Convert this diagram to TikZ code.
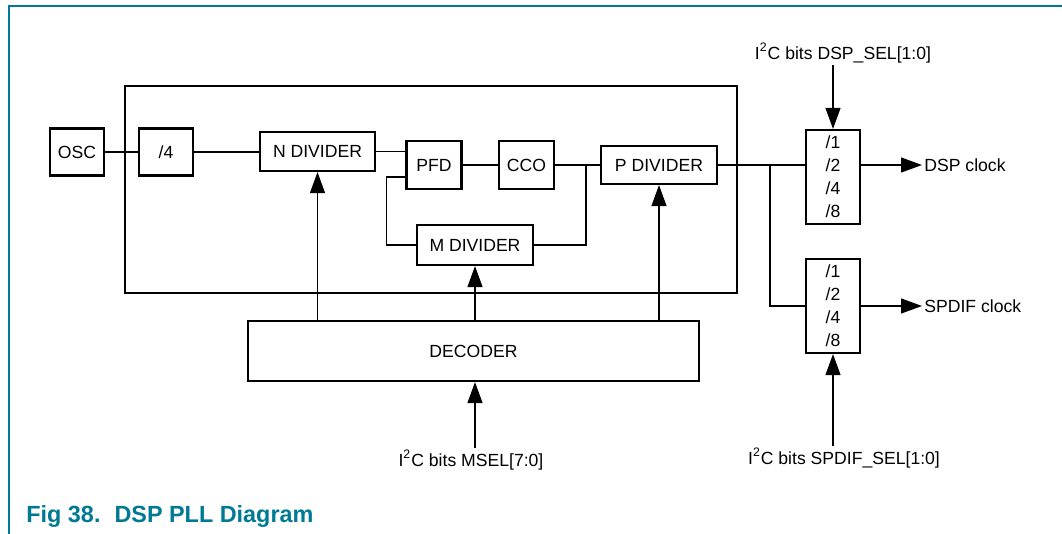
\documentclass[tikz,border=0pt]{standalone}
\usepackage{fontspec}
\setmainfont{Liberation Sans}
\usetikzlibrary{arrows.meta,calc}
\definecolor{nxpteal}{RGB}{0,122,148}
\begin{document}
\begin{tikzpicture}[x=0.5pt,y=-0.5pt,
  blk/.style={draw, line width=1.1pt, inner sep=0pt, font=\fontsize{8.8}{10}\selectfont},
  muxbox/.style={blk, minimum width=27pt, minimum height=47pt, align=center, font=\fontsize{8.8}{11.5}\selectfont},
  wire/.style={line width=0.6pt},
  arr/.style={wire,-{Triangle[length=10.5pt,width=7.5pt]}},
  lbl/.style={inner sep=1pt, font=\fontsize{8.8}{10}\selectfont}]
\useasboundingbox (0,0) rectangle (1062,534);
% frame
\draw[nxpteal, line width=0.6pt] (9,534) -- (9,6) -- (1062,6);
% PLL outline
\node[draw, line width=1.2pt, minimum width=306pt, minimum height=103.5pt, inner sep=0pt] (pll) at (431,189.5) {};
% blocks
\node[blk, minimum width=27pt, minimum height=23.5pt] (osc) at (77,152) {OSC};
\node[blk, minimum width=27pt, minimum height=23.5pt] (div4) at (166,152) {/4};
\node[blk, minimum width=57.5pt, minimum height=19.5pt] (ndiv) at (317.5,151.5) {N DIVIDER};
\node[blk, minimum width=27.5pt, minimum height=24pt] (pfd) at (434,165) {PFD};
\node[blk, minimum width=27.5pt, minimum height=24pt] (cco) at (526.5,165) {CCO};
\node[blk, minimum width=58pt, minimum height=19pt] (pdiv) at (659,165) {P DIVIDER};
\node[blk, minimum width=58pt, minimum height=20pt] (mdiv) at (475,245) {M DIVIDER};
\node[blk, minimum width=225.5pt, minimum height=30pt] (dec) at (473.5,351) {DECODER};
\node[muxbox] (dmux) at (833,177) {/1\\/2\\/4\\/8};
\node[muxbox] (smux) at (833,306) {/1\\/2\\/4\\/8};
% labels
\node[lbl] (dsel) at (843,53) {I\textsuperscript{2}C bits DSP\_SEL[1:0]};
\node[lbl] (msel) at (471,460) {I\textsuperscript{2}C bits MSEL[7:0]};
\node[lbl] (ssel) at (844,458) {I\textsuperscript{2}C bits SPDIF\_SEL[1:0]};
\node[lbl, anchor=west] (dclk) at (922,165) {DSP clock};
\node[lbl, anchor=west] (sclk) at (922,306) {SPDIF clock};
% wires
\draw[wire] (osc.east) -- (osc.east -| div4.west);
\draw[wire] (div4.east) -- (div4.east -| ndiv.west);
\draw[wire] (ndiv.east) -- (ndiv.east -| pfd.west);
\draw[wire] (pfd) -- (cco);
\draw[wire] (cco) -- (pdiv);
\coordinate (tap) at (586,165);
\draw[wire] (mdiv.east) -| (tap);
\draw[wire] ([yshift=-6pt]pfd.west) -- ++(-19,0) |- (mdiv.west);
\draw[wire] (pdiv.east) -- (pdiv.east -| dmux.west);
\coordinate (br) at (770,165);
\draw[wire] (br) |- (smux.west);
% arrows
\draw[arr] (dclk.west -| dmux.east) -- (dclk.west);
\draw[arr] (smux.east |- sclk.west) -- (sclk.west);
\draw[arr] (dsel.south -| dmux.north) -- (dmux.north);
\draw[arr] (ssel.north -| smux.south) -- (smux.south);
\draw[arr] (msel.north -| mdiv.south) -- (dec.south -| mdiv.south);
\draw[arr] (dec.north -| ndiv.south) -- (ndiv.south);
\draw[arr] (dec.north -| mdiv.south) -- (mdiv.south);
\draw[arr] (dec.north -| pdiv.south) -- (pdiv.south);
% caption
\node[anchor=base west, inner sep=0pt, text=nxpteal, font=\bfseries\fontsize{11.7}{14}\selectfont] (cap) at (26,523) {Fig 38.\hspace{7pt}DSP PLL Diagram};
\end{tikzpicture}
\end{document}
